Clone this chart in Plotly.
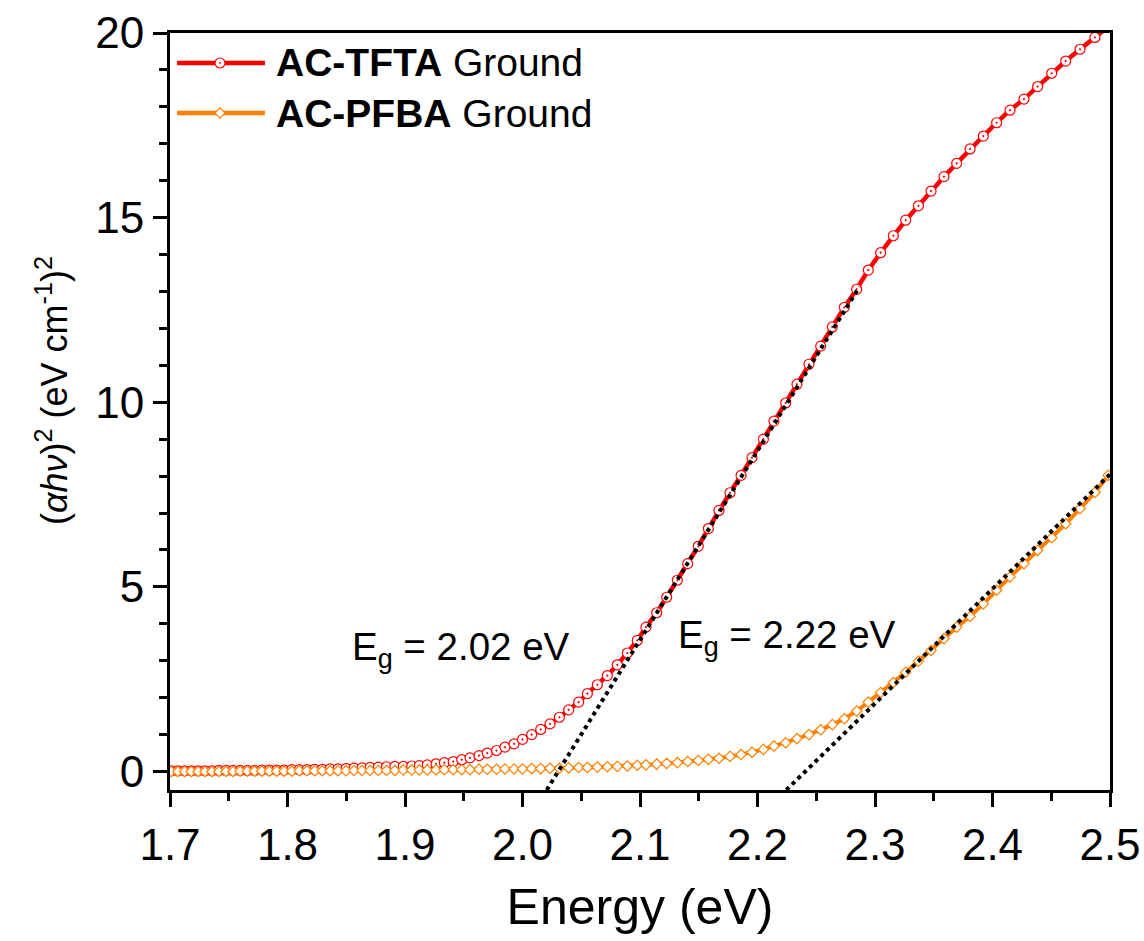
import plotly.graph_objects as go

# ---------------- data ----------------
energy = [1.7010, 1.7067, 1.7124, 1.7181, 1.7239, 1.7298, 1.7357, 1.7416, 1.7476, 1.7536,
          1.7597, 1.7658, 1.7720, 1.7782, 1.7845, 1.7908, 1.7972, 1.8036, 1.8100, 1.8165,
          1.8231, 1.8297, 1.8363, 1.8430, 1.8498, 1.8566, 1.8634, 1.8703, 1.8773, 1.8843,
          1.8914, 1.8985, 1.9057, 1.9122, 1.9190, 1.9264, 1.9335, 1.9411, 1.9483, 1.9553,
          1.9630, 1.9700, 1.9779, 1.9851, 1.9928, 2.0000, 2.0078, 2.0155, 2.0234, 2.0314,
          2.0393, 2.0478, 2.0552, 2.0637, 2.0722, 2.0807, 2.0892, 2.0977, 2.1051, 2.1142,
          2.1227, 2.1318, 2.1406, 2.1496, 2.1582, 2.1672, 2.1766, 2.1860, 2.1953, 2.2050,
          2.2140, 2.2240, 2.2336, 2.2438, 2.2538, 2.2637, 2.2739, 2.2844, 2.2943, 2.3048,
          2.3156, 2.3261, 2.3370, 2.3477, 2.3587, 2.3695, 2.3809, 2.3922, 2.4035, 2.4149,
          2.4268, 2.4384, 2.4504, 2.4623, 2.4745, 2.4872, 2.4985]

tfta = [0.02, 0.02, 0.02, 0.02, 0.02, 0.02, 0.02, 0.03, 0.03, 0.03,
        0.03, 0.03, 0.03, 0.04, 0.04, 0.04, 0.04, 0.05, 0.05, 0.05,
        0.06, 0.06, 0.07, 0.07, 0.08, 0.09, 0.10, 0.11, 0.12, 0.13,
        0.14, 0.14, 0.15, 0.16, 0.18, 0.21, 0.24, 0.27, 0.32, 0.37,
        0.43, 0.50, 0.57, 0.66, 0.75, 0.87, 1.00, 1.14, 1.29, 1.47,
        1.67, 1.88, 2.11, 2.35, 2.60, 2.89, 3.21, 3.55, 3.91, 4.30,
        4.72, 5.18, 5.63, 6.10, 6.58, 7.07, 7.55, 8.02, 8.50, 9.00,
        9.49, 9.98, 10.49, 11.03, 11.52, 12.04, 12.57, 13.06, 13.58, 14.05,
        14.51, 14.93, 15.32, 15.72, 16.11, 16.47, 16.86, 17.21, 17.57, 17.91,
        18.21, 18.55, 18.91, 19.24, 19.56, 19.88, 20.17]

pfba = [0.00, 0.00, 0.00, 0.00, 0.00, 0.00, 0.00, 0.00, 0.00, 0.00,
        0.01, 0.01, 0.01, 0.01, 0.01, 0.01, 0.01, 0.01, 0.02, 0.02,
        0.02, 0.02, 0.02, 0.02, 0.02, 0.03, 0.03, 0.03, 0.03, 0.03,
        0.03, 0.04, 0.04, 0.04, 0.04, 0.04, 0.05, 0.05, 0.05, 0.05,
        0.06, 0.06, 0.06, 0.07, 0.07, 0.07, 0.08, 0.08, 0.09, 0.09,
        0.10, 0.11, 0.11, 0.12, 0.13, 0.14, 0.15, 0.17, 0.18, 0.20,
        0.22, 0.24, 0.27, 0.30, 0.33, 0.36, 0.41, 0.46, 0.52, 0.60,
        0.69, 0.78, 0.89, 1.00, 1.13, 1.27, 1.43, 1.64, 1.88, 2.14,
        2.41, 2.69, 2.99, 3.28, 3.60, 3.91, 4.20, 4.54, 4.91, 5.27,
        5.63, 5.99, 6.33, 6.71, 7.12, 7.56, 8.02]

# Tauc linear-fit extrapolation lines
fit_tfta_x = [2.0206, 2.2866]
fit_tfta_y = [-0.5, 13.12]
fit_pfba_x = [2.2245, 2.5000]
fit_pfba_y = [-0.5, 8.05]

series_names = ["<b>AC-TFTA</b> Ground", "<b>AC-PFBA</b> Ground"]
gap_labels = ["E<sub>g</sub> = 2.02 eV", "E<sub>g</sub> = 2.22 eV"]
gap_label_pos = [(1.853, 3.30), (2.131, 3.62)]
y_title = "(<i>\u03b1h\u03bd</i>)<sup>2</sup> (eV cm<sup>-1</sup>)<sup>2</sup>"

RED = "#FF0000"
ORANGE = "#FF8000"
FONT = "Liberation Sans, Arial, Helvetica, sans-serif"

fig = go.Figure()

fig.add_trace(go.Scatter(
    x=energy, y=tfta, mode="lines+markers", name=series_names[0],
    line=dict(color=RED, width=4.5),
    marker=dict(symbol="circle-dot", size=10, color="white",
                line=dict(color=RED, width=1.2)),
    showlegend=False))

fig.add_trace(go.Scatter(
    x=energy, y=pfba, mode="lines+markers", name=series_names[1],
    line=dict(color=ORANGE, width=4),
    marker=dict(symbol="diamond", size=8, color="white",
                line=dict(color=ORANGE, width=1.2)),
    showlegend=False))

for fx, fy in [(fit_tfta_x, fit_tfta_y), (fit_pfba_x, fit_pfba_y)]:
    fig.add_trace(go.Scatter(
        x=fx, y=fy, mode="lines",
        line=dict(color="black", width=4, dash="dot"),
        showlegend=False, hoverinfo="skip"))

# ---------------- custom legend (top-left, inside plot) ----------------
leg_y = [0.9604, 0.8943]
leg_colors = [RED, ORANGE]
shapes = []
annotations = []
for i in range(2):
    shapes.append(dict(type="line", xref="paper", yref="paper",
                       x0=0.0075, x1=0.101, y0=leg_y[i], y1=leg_y[i],
                       line=dict(color=leg_colors[i], width=4.5)))
shapes.append(dict(type="circle", xref="paper", yref="paper",
                   xsizemode="pixel", ysizemode="pixel",
                   xanchor=0.0532, yanchor=leg_y[0],
                   x0=-5, x1=5, y0=-5, y1=5,
                   fillcolor="white", line=dict(color=RED, width=1.2)))
shapes.append(dict(type="circle", xref="paper", yref="paper",
                   xsizemode="pixel", ysizemode="pixel",
                   xanchor=0.0532, yanchor=leg_y[0],
                   x0=-0.8, x1=0.8, y0=-0.8, y1=0.8,
                   fillcolor=RED, line=dict(color=RED, width=0.5)))
shapes.append(dict(type="path", xref="paper", yref="paper",
                   xsizemode="pixel", ysizemode="pixel",
                   xanchor=0.0532, yanchor=leg_y[1],
                   path="M -5.2 0 L 0 5.2 L 5.2 0 L 0 -5.2 Z",
                   fillcolor="white", line=dict(color=ORANGE, width=1.2)))

for i in range(2):
    annotations.append(dict(text=series_names[i], xref="paper", yref="paper",
                            x=0.1110, y=leg_y[i], xanchor="left", yanchor="middle",
                            showarrow=False, font=dict(family=FONT, size=39, color="black")))

for txt, (ax, ay) in zip(gap_labels, gap_label_pos):
    annotations.append(dict(text=txt, x=ax, y=ay, xref="x", yref="y",
                            xanchor="left", yanchor="middle", showarrow=False,
                            font=dict(family=FONT, size=38.5, color="black")))

# y-axis title as rotated annotation
annotations.append(dict(text=y_title, xref="paper", yref="paper",
                        x=-0.1255, y=0.5270, xanchor="center", yanchor="middle",
                        textangle=-90, showarrow=False,
                        font=dict(family=FONT, size=36, color="black")))

fig.update_layout(
    width=1144, height=941,
    margin=dict(l=170, r=34, t=33, b=151, autoexpand=False),
    paper_bgcolor="white", plot_bgcolor="white",
    font=dict(family=FONT, color="black"),
    shapes=shapes, annotations=annotations,
    showlegend=False,
)

fig.update_xaxes(
    range=[1.7, 2.5], dtick=0.1, tick0=1.7, tickformat=".1f",
    showgrid=False, zeroline=False, automargin=False,
    showline=True, linecolor="black", linewidth=3, mirror=True,
    ticks="outside", ticklen=14, tickwidth=2.5, tickcolor="black",
    minor=dict(dtick=0.05, ticks="outside", ticklen=8, tickwidth=2.5, tickcolor="black"),
    tickfont=dict(family=FONT, size=44, color="black"),
    title=dict(text="Energy (eV)", font=dict(family=FONT, size=50, color="black"), standoff=22),
)

fig.update_yaxes(
    range=[-0.5, 20], dtick=5, tick0=0,
    showgrid=False, zeroline=False, automargin=False,
    showline=True, linecolor="black", linewidth=3, mirror=True,
    ticks="outside", ticklen=14, tickwidth=2.5, tickcolor="black",
    minor=dict(dtick=1, ticks="outside", ticklen=8, tickwidth=2.5, tickcolor="black"),
    tickfont=dict(family=FONT, size=44, color="black"),
)

fig.write_html("out.html")
